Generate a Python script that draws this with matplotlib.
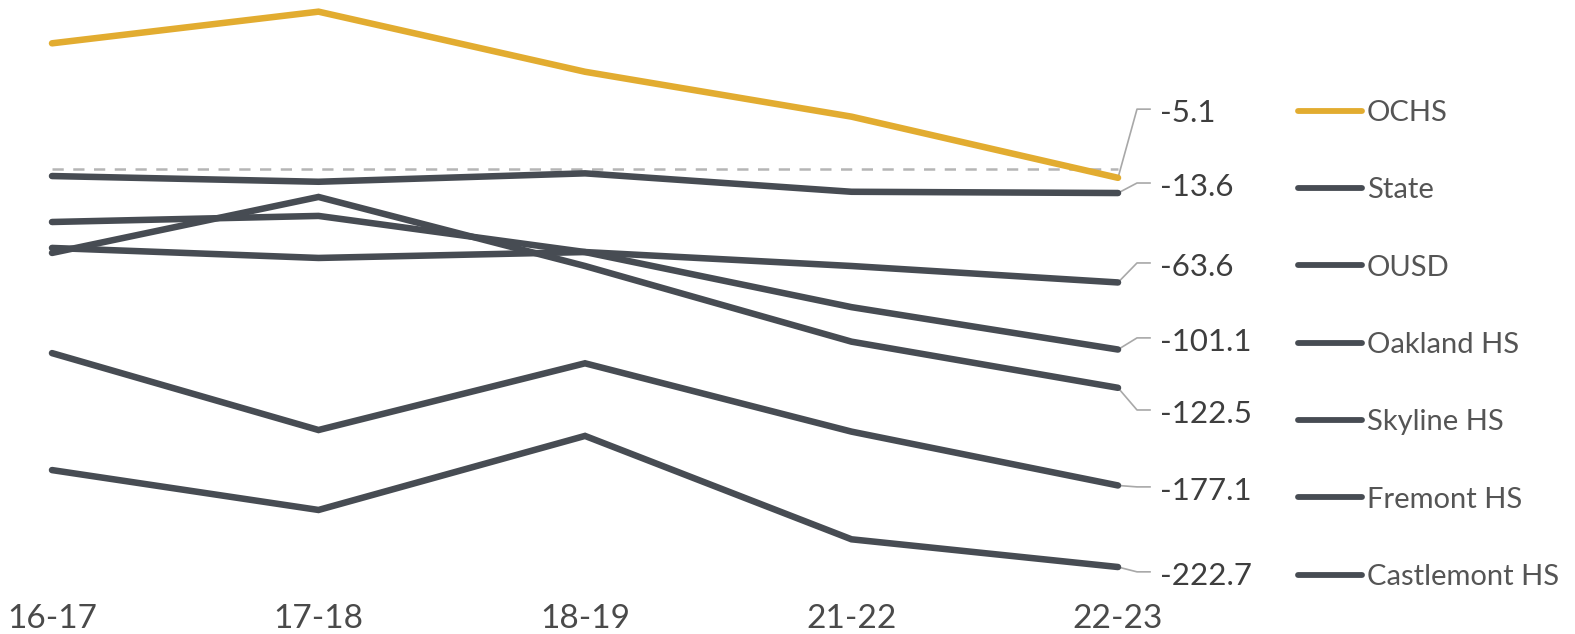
import numpy as np
import matplotlib.pyplot as plt

plt.rcParams['font.family'] = ['Lato', 'DejaVu Sans']

years = ['16-17', '17-18', '18-19', '21-22', '22-23']
names = ['OCHS', 'State', 'OUSD', 'Oakland HS', 'Skyline HS', 'Fremont HS', 'Castlemont HS']

ochs = [70.1, 87.8, 54.2, 29.1, -5.1]
state = [-4.1, -7.3, -2.6, -12.9, -13.6]
ousd = [-44.3, -49.9, -46.6, -54.4, -63.6]
oakland = [-29.8, -26.4, -46.6, -77.4, -101.1]
skyline = [-47.1, -15.8, -54.4, -96.7, -122.5]
fremont = [-103.1, -146.1, -108.8, -147.0, -177.1]
castlemont = [-168.5, -190.8, -149.4, -207.2, -222.7]

series = [ochs, state, ousd, oakland, skyline, fremont, castlemont]

gold = '#E2AC30'
dark = '#474C53'
colors = [gold] + [dark] * 6

# where the end labels sit (value units), layout only
label_y = [33.3, -8.0, -52.7, -94.6, -134.9, -177.9, -225.4]

W, H = 1575, 634
fig = plt.figure(figsize=(W / 100, H / 100), dpi=100)
ax = fig.add_axes([0, 1 - 596 / H, 1, 596 / H])

# pixel layout: first year at x=52px, last at x=1118px
px_step = (1118 - 52) / 4
ax.set_xlim(-52 / px_step, (W - 52) / px_step)
scale = 1.7886  # px per unit
ax.set_ylim((168.7 - 596) / scale, 168.7 / scale)

x = np.arange(len(years))

ax.plot([x[0], x[-1]], [0, 0], color='#B5B5B5', lw=1.8, dashes=(4.5, 3.8), zorder=1)

for i in range(len(series) - 1, -1, -1):
    ax.plot(x, series[i], color=colors[i], lw=4.7, solid_capstyle='round',
            solid_joinstyle='miter', label=names[i], zorder=3 if i == 0 else 2)

# leader lines and end labels
x_end = x[-1]
x_elbow = x_end + 19 / px_step
x_flat = x_end + 32 / px_step
x_txt = x_end + 42 / px_step
for i in range(len(series)):
    v = series[i][-1]
    ly = label_y[i]
    ax.plot([x_end, x_elbow, x_flat], [v, ly, ly], color='#A8A8A8', lw=1.2, zorder=1,
            clip_on=False)
    ax.annotate('%.1f' % v, xy=(x_txt, ly), xytext=(0, -3), textcoords='offset points',
                fontsize=22.5, color='#3E3E3E', va='center', ha='left')

handles, labels = ax.get_legend_handles_labels()
handles = handles[::-1]
labels = labels[::-1]
leg = fig.legend(handles, labels, loc='upper left',
                 bbox_to_anchor=(1298 / W, 1 - 100 / H), frameon=False,
                 fontsize=21, handlelength=2.19, handletextpad=0.17,
                 labelspacing=1.76, borderpad=0, borderaxespad=0)
for t in leg.get_texts():
    t.set_color('#555555')
for h in leg.get_lines():
    h.set_linewidth(4.2)
    h.set_solid_capstyle('round')

ax.set_xticks(x)
ax.set_xticklabels(years, fontsize=24, color='#4A4A4A')
ax.tick_params(axis='x', length=0, pad=6)
ax.set_yticks([])
for s in ax.spines.values():
    s.set_visible(False)

fig.savefig('out.png', dpi=100)
